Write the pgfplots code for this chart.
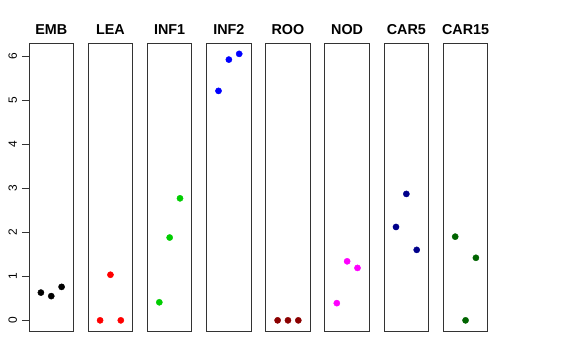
\documentclass[border=0pt]{standalone}
\usepackage{fontspec}
\setmainfont{Liberation Sans}
\usepackage{pgfplots}
\pgfplotsset{compat=1.18}
\definecolor{cEMB}{HTML}{000000}
\definecolor{cLEA}{HTML}{FF0000}
\definecolor{cINF1}{HTML}{00CD00}
\definecolor{cINF2}{HTML}{0000FF}
\definecolor{cROO}{HTML}{8B0000}
\definecolor{cNOD}{HTML}{FF00FF}
\definecolor{cCAR5}{HTML}{00008B}
\definecolor{cCARf}{HTML}{006400}
\pgfplotsset{every axis title/.style={at={(0.5,1)}, anchor=base, yshift=9bp, font=\bfseries\fontsize{14.4}{16}\selectfont},
  panel/.style={scale only axis, width=44.5bp, height=287.7bp, anchor=south west,
  xmin=-0.15, xmax=4.15, ymin=-0.242, ymax=6.29, xtick=\empty, ytick=\empty,
  axis line style={black!80, line width=0.9bp},
  clip=false},
  pts/.style={only marks, mark=*, mark size=3.1bp, color=#1}}
\begin{document}
\begin{tikzpicture}
\path (0,0) rectangle (576bp,360bp);
\begin{axis}[panel, at={(29bp,29bp)}, title={EMB},
  ytick={0,1,2,3,4,5,6}, ytick pos=left, tick align=outside, major tick length=7.2bp,
  tick style={black!80, line width=0.9bp},
  /pgf/number format/assume math mode=true,
  yticklabel style={rotate=90, anchor=base, yshift=5bp, font=\fontsize{12}{14}\selectfont}]
\addplot[pts=cEMB] coordinates {(1,0.63)(2,0.55)(3,0.76)};
\end{axis}
\begin{axis}[panel, at={(88.2bp,29bp)}, title={LEA}]
\addplot[pts=cLEA] coordinates {(1,0)(2,1.035)(3,0)};
\end{axis}
\begin{axis}[panel, at={(147.4bp,29bp)}, title={INF1}]
\addplot[pts=cINF1] coordinates {(1,0.41)(2,1.88)(3,2.77)};
\end{axis}
\begin{axis}[panel, at={(206.6bp,29bp)}, title={INF2}]
\addplot[pts=cINF2] coordinates {(1,5.21)(2,5.92)(3,6.05)};
\end{axis}
\begin{axis}[panel, at={(265.7bp,29bp)}, title={ROO}]
\addplot[pts=cROO] coordinates {(1,0)(2,0)(3,0)};
\end{axis}
\begin{axis}[panel, at={(324.9bp,29bp)}, title={NOD}]
\addplot[pts=cNOD] coordinates {(1,0.39)(2,1.34)(3,1.19)};
\end{axis}
\begin{axis}[panel, at={(384.1bp,29bp)}, title={CAR5}]
\addplot[pts=cCAR5] coordinates {(1,2.12)(2,2.87)(3,1.60)};
\end{axis}
\begin{axis}[panel, at={(443.3bp,29bp)}, title={CAR15}]
\addplot[pts=cCARf] coordinates {(1,1.90)(2,0)(3,1.42)};
\end{axis}
\end{tikzpicture}
\end{document}
